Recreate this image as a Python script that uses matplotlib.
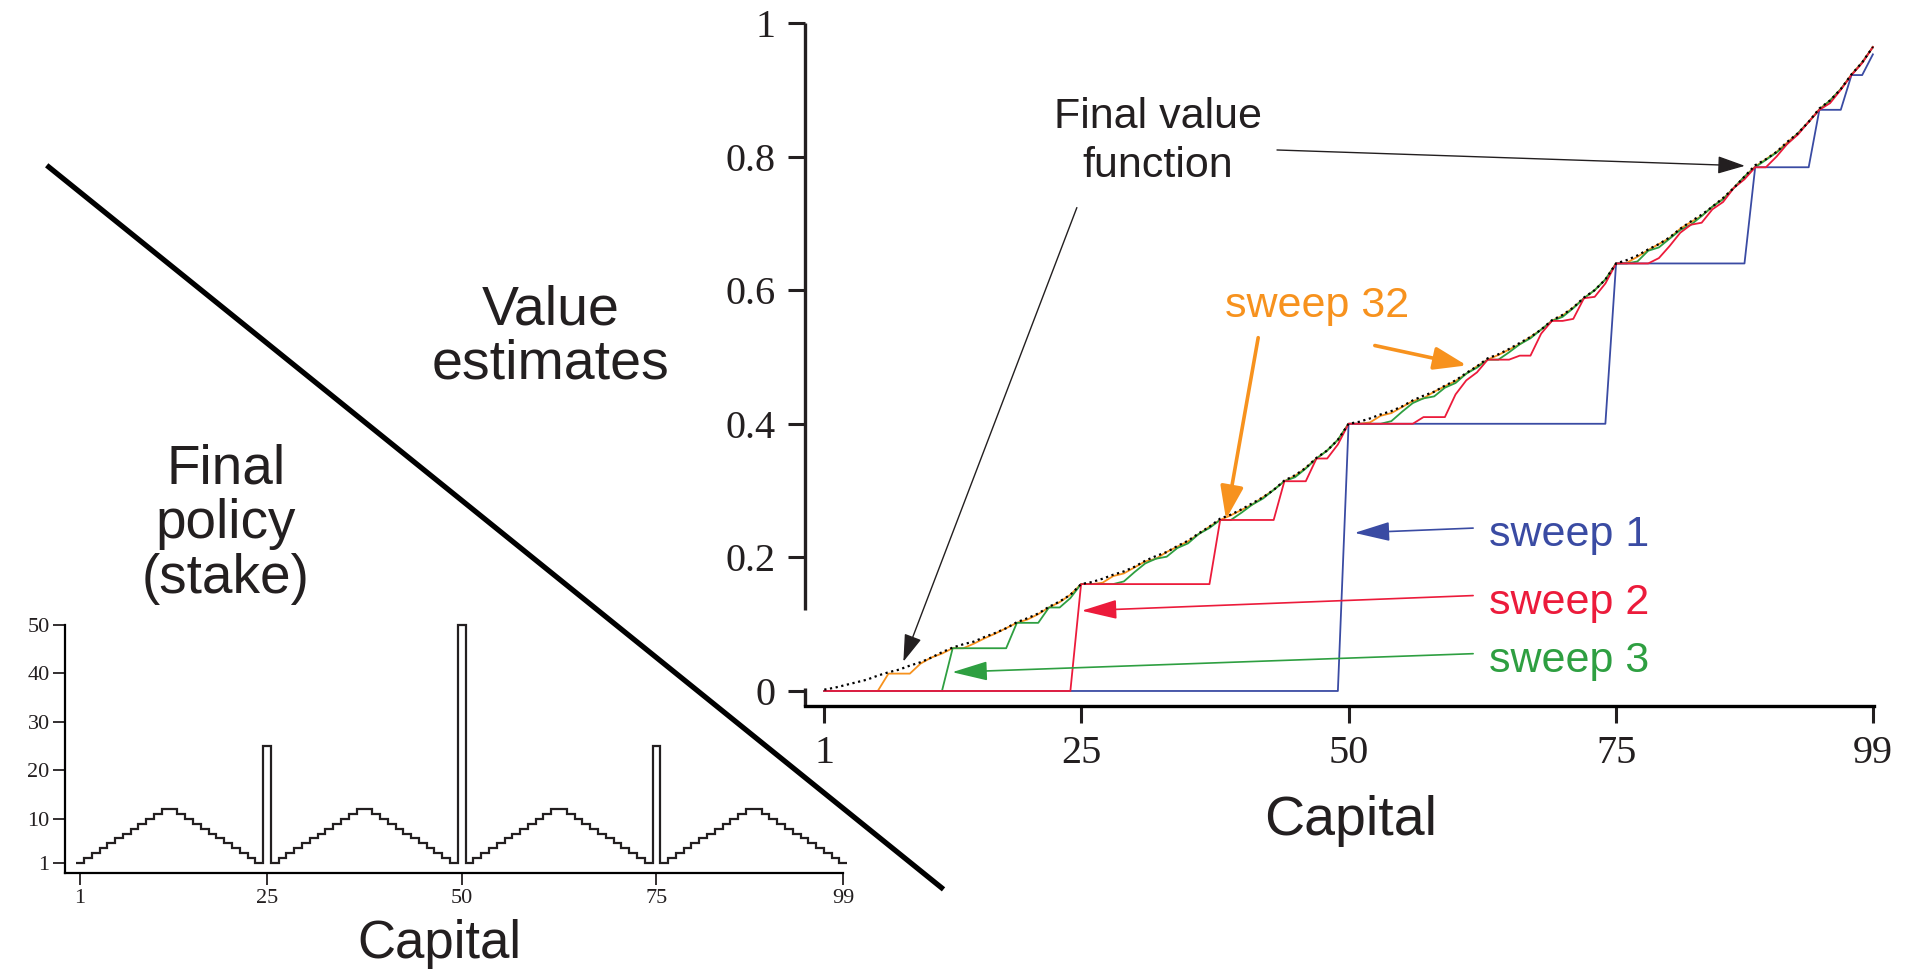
import numpy as np
import matplotlib
matplotlib.use('Agg')
import matplotlib.pyplot as plt
from matplotlib.transforms import blended_transform_factory

# capital 1..99, values in thousandths
capital = np.arange(1, 100)
sweep1 = [0, 0, 0, 0, 0, 0, 0, 0, 0, 0,
          0, 0, 0, 0, 0, 0, 0, 0, 0, 0,
          0, 0, 0, 0, 0, 0, 0, 0, 0, 0,
          0, 0, 0, 0, 0, 0, 0, 0, 0, 0,
          0, 0, 0, 0, 0, 0, 0, 0, 0, 400,
          400, 400, 400, 400, 400, 400, 400, 400, 400, 400,
          400, 400, 400, 400, 400, 400, 400, 400, 400, 400,
          400, 400, 400, 400, 640, 640, 640, 640, 640, 640,
          640, 640, 640, 640, 640, 640, 640, 784, 784, 784,
          784, 784, 784, 870, 870, 870, 922, 922, 953]
sweep2 = [0, 0, 0, 0, 0, 0, 0, 0, 0, 0,
          0, 0, 0, 0, 0, 0, 0, 0, 0, 0,
          0, 0, 0, 0, 160, 160, 160, 160, 160, 160,
          160, 160, 160, 160, 160, 160, 160, 256, 256, 256,
          256, 256, 256, 314, 314, 314, 348, 348, 369, 400,
          400, 400, 400, 400, 400, 400, 410, 410, 410, 444,
          465, 477, 496, 496, 496, 502, 502, 535, 554, 554,
          557, 588, 590, 610, 640, 640, 640, 640, 648, 666,
          686, 698, 701, 721, 732, 753, 766, 784, 784, 800,
          819, 833, 852, 870, 880, 900, 922, 940, 964]
sweep3 = [0, 0, 0, 0, 0, 0, 0, 0, 0, 0,
          0, 0, 64, 64, 64, 64, 64, 64, 102, 102,
          102, 125, 125, 139, 160, 160, 160, 160, 164, 178,
          191, 198, 201, 214, 221, 235, 244, 256, 256, 267,
          279, 288, 301, 314, 320, 333, 348, 360, 376, 400,
          400, 400, 400, 404, 418, 431, 438, 441, 454, 461,
          475, 484, 496, 496, 507, 519, 528, 541, 554, 560,
          573, 588, 600, 616, 640, 640, 643, 659, 664, 677,
          690, 698, 711, 725, 736, 753, 770, 784, 795, 806,
          819, 835, 852, 870, 884, 901, 922, 941, 964]
sweep32 = [0, 0, 0, 0, 0, 0, 26, 26, 26, 41,
           50, 56, 64, 64, 71, 79, 86, 94, 102, 107,
           115, 125, 133, 144, 160, 160, 162, 172, 176, 185,
           194, 198, 208, 216, 224, 235, 246, 256, 263, 271,
           279, 290, 301, 314, 322, 334, 348, 360, 376, 400,
           400, 402, 412, 416, 425, 434, 438, 448, 456, 464,
           475, 486, 496, 503, 511, 519, 530, 541, 554, 562,
           574, 588, 600, 616, 640, 641, 650, 660, 669, 678,
           692, 702, 711, 725, 737, 753, 770, 785, 796, 807,
           821, 835, 852, 871, 884, 901, 923, 941, 964]
final_value = [2, 5, 9, 13, 17, 23, 28, 32, 38, 43,
               50, 58, 65, 70, 74, 81, 87, 94, 103, 109,
               116, 126, 134, 144, 160, 163, 168, 174, 179, 186,
               195, 202, 208, 217, 225, 236, 246, 258, 264, 272,
               281, 290, 301, 315, 323, 334, 349, 360, 376, 400,
               403, 408, 414, 419, 426, 435, 442, 448, 457, 465,
               476, 486, 498, 504, 512, 521, 530, 541, 555, 563,
               574, 589, 600, 616, 640, 645, 652, 661, 669, 679,
               692, 703, 713, 725, 738, 753, 770, 787, 796, 807,
               822, 835, 852, 872, 884, 901, 923, 941, 964]
policy = [1, 2, 3, 4, 5, 6, 7, 8, 9, 10,
          11, 12, 12, 11, 10, 9, 8, 7, 6, 5,
          4, 3, 2, 1, 25, 1, 2, 3, 4, 5,
          6, 7, 8, 9, 10, 11, 12, 12, 11, 10,
          9, 8, 7, 6, 5, 4, 3, 2, 1, 50,
          1, 2, 3, 4, 5, 6, 7, 8, 9, 10,
          11, 12, 12, 11, 10, 9, 8, 7, 6, 5,
          4, 3, 2, 1, 25, 1, 2, 3, 4, 5,
          6, 7, 8, 9, 10, 11, 12, 12, 11, 10,
          9, 8, 7, 6, 5, 4, 3, 2, 1]
x_ticks = [1, 25, 50, 75, 99]
v_ticks = [0, 0.2, 0.4, 0.6, 0.8, 1]
v_tick_labels = ['0', '0.2', '0.4', '0.6', '0.8', '1']
stake_ticks = [1, 10, 20, 30, 40, 50]

SANS = ['Liberation Sans', 'DejaVu Sans']
SERIF = ['Liberation Serif', 'DejaVu Serif']
INK = '#231f20'
BLUE, RED, GREEN, ORANGE = '#3a4ba3', '#ec1b3b', '#2e9f41', '#f7921e'

fig = plt.figure(figsize=(19.12, 9.69), dpi=100)

# upper graph: value estimates
ax = fig.add_axes([0.4210, 0.2714, 0.5591, 0.7049])
ax.patch.set_visible(False)
ax.plot(capital, np.array(sweep32) / 1000, color=ORANGE, lw=1.3)
ax.plot(capital, np.array(sweep3) / 1000, color=GREEN, lw=1.3)
ax.plot(capital, np.array(sweep1) / 1000, color=BLUE, lw=1.3)
ax.plot(capital, np.array(sweep2) / 1000, color=RED, lw=1.3)
ax.plot(capital, np.array(final_value) / 1000, color='k', lw=1.6, ls=(0, (1, 1.6)))
ax.set_xlim(-0.805, 99.1)
ax.set_ylim(-0.0225, 1.0)
ax.set_xticks(x_ticks)
ax.set_yticks(v_ticks)
ax.set_yticklabels(v_tick_labels)
for sp in ['top', 'right', 'left']:
    ax.spines[sp].set_visible(False)
ax.spines['bottom'].set_linewidth(2.4)
# left axis line in two pieces, with the gap seen in the original
tr = blended_transform_factory(ax.transAxes, ax.transData)
ax.plot([0, 0], [1.0, 0.121], color=INK, lw=2.4, transform=tr, clip_on=False,
        solid_capstyle='butt')
ax.plot([0, 0], [0.004, -0.0225], color=INK, lw=2.4, transform=tr, clip_on=False,
        solid_capstyle='butt')
ax.tick_params(direction='out', length=12, width=2.2, labelsize=29, pad=9, colors=INK)
for lab in ax.get_xticklabels() + ax.get_yticklabels():
    lab.set_family(SERIF)

# labels and arrows
ax.text(32.2, 0.823, 'Final value\nfunction', family=SANS, fontsize=31, color=INK,
        ha='center', va='center', linespacing=1.28)
head_k = '-|>,head_length=1.7,head_width=0.55'
ax.annotate('', xy=(8.3, 0.040), xytext=(24.7, 0.7275),
            arrowprops=dict(arrowstyle=head_k, color=INK, lw=1.0))
ax.annotate('', xy=(87.3, 0.786), xytext=(43.05, 0.81),
            arrowprops=dict(arrowstyle=head_k, color=INK, lw=1.0))
ax.text(47.1, 0.577, 'sweep 32', family=SANS, fontsize=31, color=ORANGE, ha='center', va='center')
head_o = '-|>,head_length=2.0,head_width=0.7'
ax.annotate('', xy=(38.5, 0.253), xytext=(41.6, 0.533),
            arrowprops=dict(arrowstyle=head_o, color=ORANGE, lw=2.6))
ax.annotate('', xy=(61.3, 0.4865), xytext=(52.2, 0.518),
            arrowprops=dict(arrowstyle=head_o, color=ORANGE, lw=2.6))
head_c = '-|>,head_length=2.2,head_width=0.6'
for lbl, col, ty, tip in [('sweep 1', BLUE, 0.233, (50.3, 0.2365)),
                          ('sweep 2', RED, 0.132, (24.8, 0.12)),
                          ('sweep 3', GREEN, 0.045, (12.7, 0.028))]:
    ax.text(63.1, ty, lbl, family=SANS, fontsize=31, color=col, ha='left', va='center')
    ax.annotate('', xy=tip, xytext=(61.9, ty + 0.011),
                arrowprops=dict(arrowstyle=head_c, color=col, lw=1.2))

# lower graph: final policy
ax2 = fig.add_axes([0.0340, 0.0988, 0.4071, 0.2566])
ax2.patch.set_visible(False)
ax2.stairs(policy, np.arange(0.5, 100.5, 1), baseline=None, color=INK, lw=1.6, clip_on=False)
ax2.set_xlim(-0.93, 99.0)
ax2.set_ylim(-1.18, 50)
ax2.set_xticks(x_ticks)
ax2.set_yticks(stake_ticks)
for sp in ['top', 'right']:
    ax2.spines[sp].set_visible(False)
ax2.spines['left'].set_linewidth(1.6)
ax2.spines['bottom'].set_linewidth(1.6)
ax2.tick_params(direction='out', length=8.5, width=1.3, labelsize=16, pad=2.5, colors=INK)
for lab in ax2.get_xticklabels() + ax2.get_yticklabels():
    lab.set_family(SERIF)

fig.text(0.7066, 0.153, 'Capital', family=SANS, fontsize=40, color=INK, ha='center', va='center')
fig.text(0.2296, 0.0, 'Capital', family=SANS, fontsize=38, color=INK, ha='center', va='bottom')
fig.text(0.288, 0.652, 'Value\nestimates', family=SANS, fontsize=40, color=INK,
         ha='center', va='center', linespacing=1.06)
fig.text(0.118, 0.459, 'Final\npolicy\n(stake)', family=SANS, fontsize=39.5, color=INK,
         ha='center', va='center', linespacing=1.06)
fig.add_artist(plt.Line2D([0.0255, 0.4924], [0.8277, 0.0839], color='k', lw=3.8))

fig.savefig('out.png', dpi=100)
